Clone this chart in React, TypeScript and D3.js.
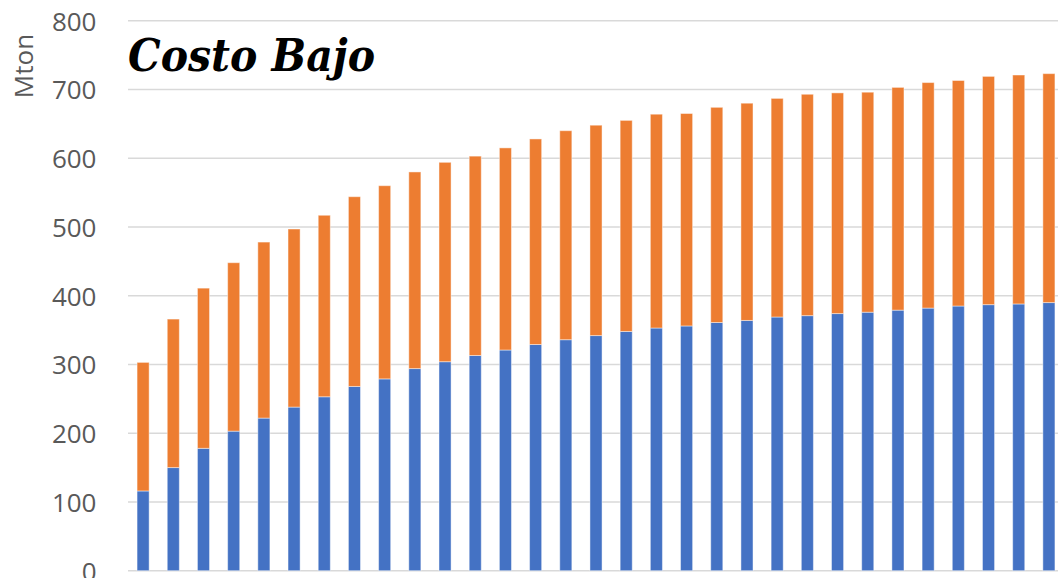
import React from "react";
import * as d3 from "d3";

// Years shown along the horizontal axis (labels sit below the visible frame)
const years: string[] = d3.range(2020, 2051).map(String);

// Lower segment (blue), Mton
const baseSeries: number[] = [
  116, 150, 178, 203, 222, 238, 253, 268, 279, 294,
  304, 313, 321, 329, 336, 342, 348, 353, 356, 361,
  364, 369, 371, 374, 376, 379, 382, 385, 387, 388, 390,
];

// Stack totals, Mton
const totals: number[] = [
  303, 366, 411, 448, 478, 497, 517, 544, 560, 580,
  594, 603, 615, 628, 640, 648, 655, 664, 665, 674,
  680, 687, 693, 695, 696, 703, 710, 713, 719, 721, 723,
];

// Upper segment (orange) = total minus lower segment
const topSeries: number[] = totals.map((t, i) => t - baseSeries[i]);

const yTicks: number[] = [0, 100, 200, 300, 400, 500, 600, 700, 800];

const W = 1058;
const H = 578;

export default function App() {
  const x = d3
    .scaleBand<string>()
    .domain(years)
    .range([128, 1064])
    .paddingInner(0.6)
    .paddingOuter(0.3);

  const y = d3.scaleLinear().domain([0, 800]).range([570.7, 20.7]);

  const rows = years.map((yr, i) => ({ yr, base: baseSeries[i], top: topSeries[i] }));
  const stacked = d3.stack<{ yr: string; base: number; top: number }>().keys(["base", "top"])(rows);
  const colors = ["#4472C4", "#ED7D31"];

  return (
    <svg
      width={W}
      height={H}
      style={{ position: "absolute", left: 0, top: 0, background: "#fff" }}
    >
      {/* gridlines */}
      {yTicks.map((t) => (
        <line
          key={t}
          x1={128}
          x2={W}
          y1={y(t)}
          y2={y(t)}
          stroke="#D9D9D9"
          strokeWidth={1.6}
        />
      ))}

      {/* stacked bars */}
      {stacked.map((layer, li) => (
        <g key={layer.key} fill={colors[li]}>
          {layer.map((d, i) => (
            <rect
              key={years[i]}
              x={x(years[i])!}
              width={x.bandwidth()}
              y={y(d[1])}
              height={y(d[0]) - y(d[1])}
              stroke="#ffffff"
              strokeOpacity={0.45}
              strokeWidth={1}
            />
          ))}
        </g>
      ))}

      {/* y tick labels */}
      {yTicks.map((t) => (
        <text
          key={t}
          x={96.5}
          y={y(t)}
          textAnchor="end"
          dominantBaseline="central"
          fontFamily="'Open Sans', sans-serif"
          fontSize={26}
          fill="#595959"
        >
          {t}
        </text>
      ))}

      {/* axis title */}
      <text
        transform={`translate(22.5, 66) rotate(-90)`}
        textAnchor="middle"
        dominantBaseline="central"
        fontFamily="'Open Sans', sans-serif"
        fontSize={26}
        fill="#595959"
      >
        Mton
      </text>

      {/* chart title */}
      <text
        x={128}
        y={70.5}
        fontFamily="'DejaVu Serif', serif"
        fontStyle="italic"
        fontWeight="bold"
        fontSize={45}
        fill="#000"
        textLength={247}
        lengthAdjust="spacingAndGlyphs"
      >
        Costo Bajo
      </text>
    </svg>
  );
}
